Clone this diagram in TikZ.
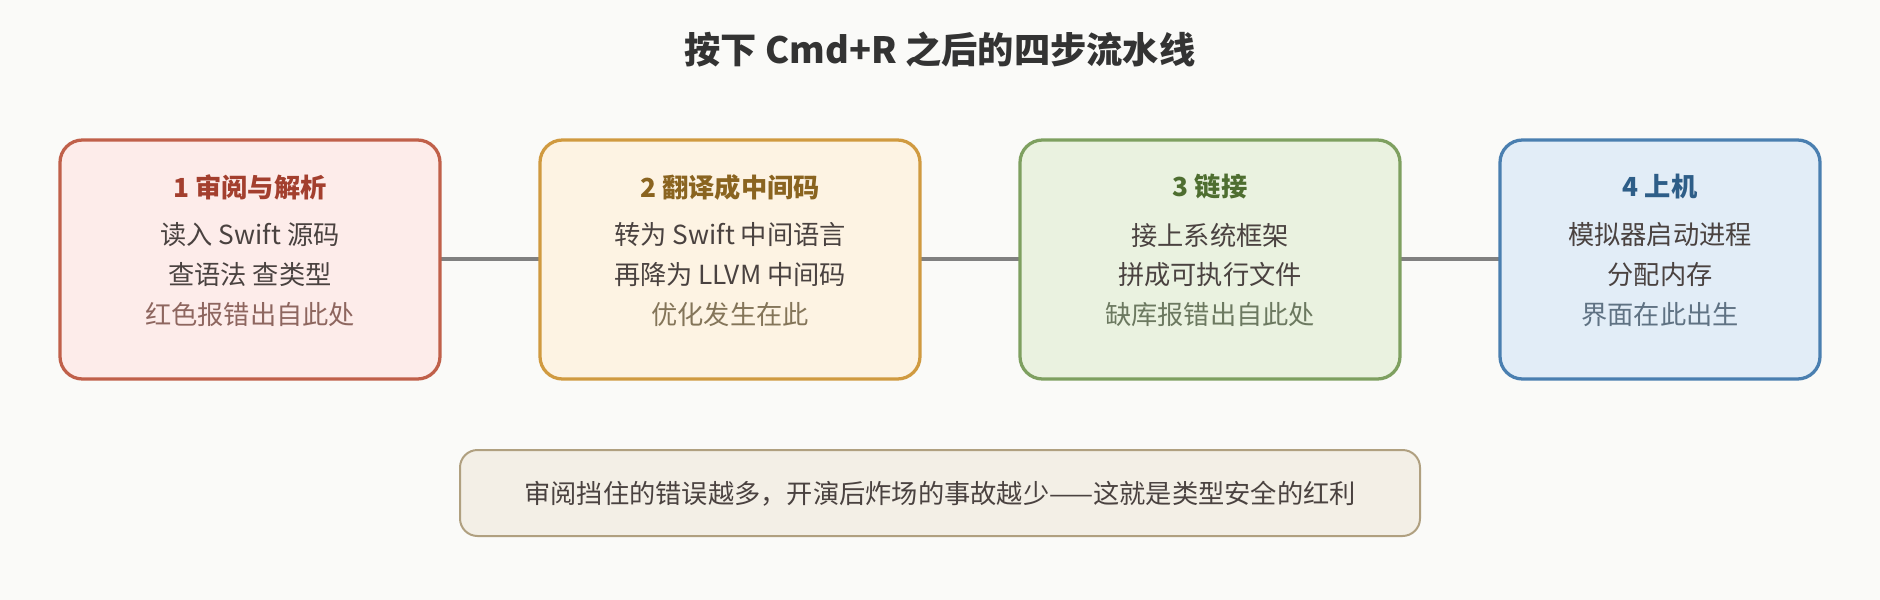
\documentclass[tikz,border=0pt]{standalone}
\usepackage{fontspec}
\setmainfont{Noto Sans CJK SC}
\begin{document}
\begin{tikzpicture}[x=0.4pt,y=-0.4pt,
  box/.style={rounded corners=9pt,line width=1.3pt},
  ttl/.style={font=\fontsize{10.5}{12}\selectfont\bfseries},
  dim/.style={font=\fontsize{10.5}{12}\selectfont},
  conn/.style={line width=1.9pt,draw=gray}]
\definecolor{bg}{HTML}{FAFAF8}
\fill[bg] (0,0) rectangle (1880,600);
\useasboundingbox (0,0) rectangle (1880,600);
\node[font=\fontsize{14.5}{16}\selectfont\bfseries,text=black!80] (title) at (940,50) {按下 Cmd+R 之后的四步流水线};
\definecolor{f1}{HTML}{FDECEA}\definecolor{d1}{HTML}{C0604A}\definecolor{t1}{HTML}{A33F2E}
\definecolor{f2}{HTML}{FDF3E3}\definecolor{d2}{HTML}{D09A40}\definecolor{t2}{HTML}{8A6420}
\definecolor{f3}{HTML}{EAF2E0}\definecolor{d3}{HTML}{7EA060}\definecolor{t3}{HTML}{4E6E30}
\definecolor{f4}{HTML}{E2EDF7}\definecolor{d4}{HTML}{4A7FB0}\definecolor{t4}{HTML}{2E5E88}
\definecolor{tx}{HTML}{4A4240}
\coordinate (a1) at (440,259); \coordinate (b1) at (540,259);
\coordinate (a2) at (920,259); \coordinate (b2) at (1020,259);
\coordinate (a3) at (1400,259); \coordinate (b3) at (1500,259);
\draw[conn] (a1) -- (b1); \draw[conn] (a2) -- (b2); \draw[conn] (a3) -- (b3);
\draw[box,fill=f1,draw=d1] (60,140) rectangle (440,379);
\draw[box,fill=f2,draw=d2] (540,140) rectangle (920,379);
\draw[box,fill=f3,draw=d3] (1020,140) rectangle (1400,379);
\draw[box,fill=f4,draw=d4] (1500,140) rectangle (1820,379);
\node[ttl,text=t1] (h1) at (250,187) {1 审阅与解析};
\node[dim,text=tx] (p1) at (250,235) {读入 Swift 源码};
\node[dim,text=tx] (q1) at (250,275) {查语法 查类型};
\node[dim,text=t1!40!gray] (r1) at (250,315) {红色报错出自此处};
\node[ttl,text=t2] (h2) at (730,187) {2 翻译成中间码};
\node[dim,text=tx] (p2) at (730,235) {转为 Swift 中间语言};
\node[dim,text=tx] (q2) at (730,275) {再降为 LLVM 中间码};
\node[dim,text=t2!40!gray] (r2) at (730,315) {优化发生在此};
\node[ttl,text=t3] (h3) at (1210,187) {3 链接};
\node[dim,text=tx] (p3) at (1210,235) {接上系统框架};
\node[dim,text=tx] (q3) at (1210,275) {拼成可执行文件};
\node[dim,text=t3!40!gray] (r3) at (1210,315) {缺库报错出自此处};
\node[ttl,text=t4] (h4) at (1660,187) {4 上机};
\node[dim,text=tx] (p4) at (1660,235) {模拟器启动进程};
\node[dim,text=tx] (q4) at (1660,275) {分配内存};
\node[dim,text=t4!40!gray] (r4) at (1660,315) {界面在此出生};
\definecolor{nf}{HTML}{F3EFE6}\definecolor{nd}{HTML}{B0A080}
\draw[fill=nf,draw=nd,line width=0.8pt,rounded corners=7pt] (460,450) rectangle (1420,536);
\node[dim,text=tx] (note) at (940,494) {审阅挡住的错误越多，开演后炸场的事故越少——这就是类型安全的红利};
\end{tikzpicture}
\end{document}
